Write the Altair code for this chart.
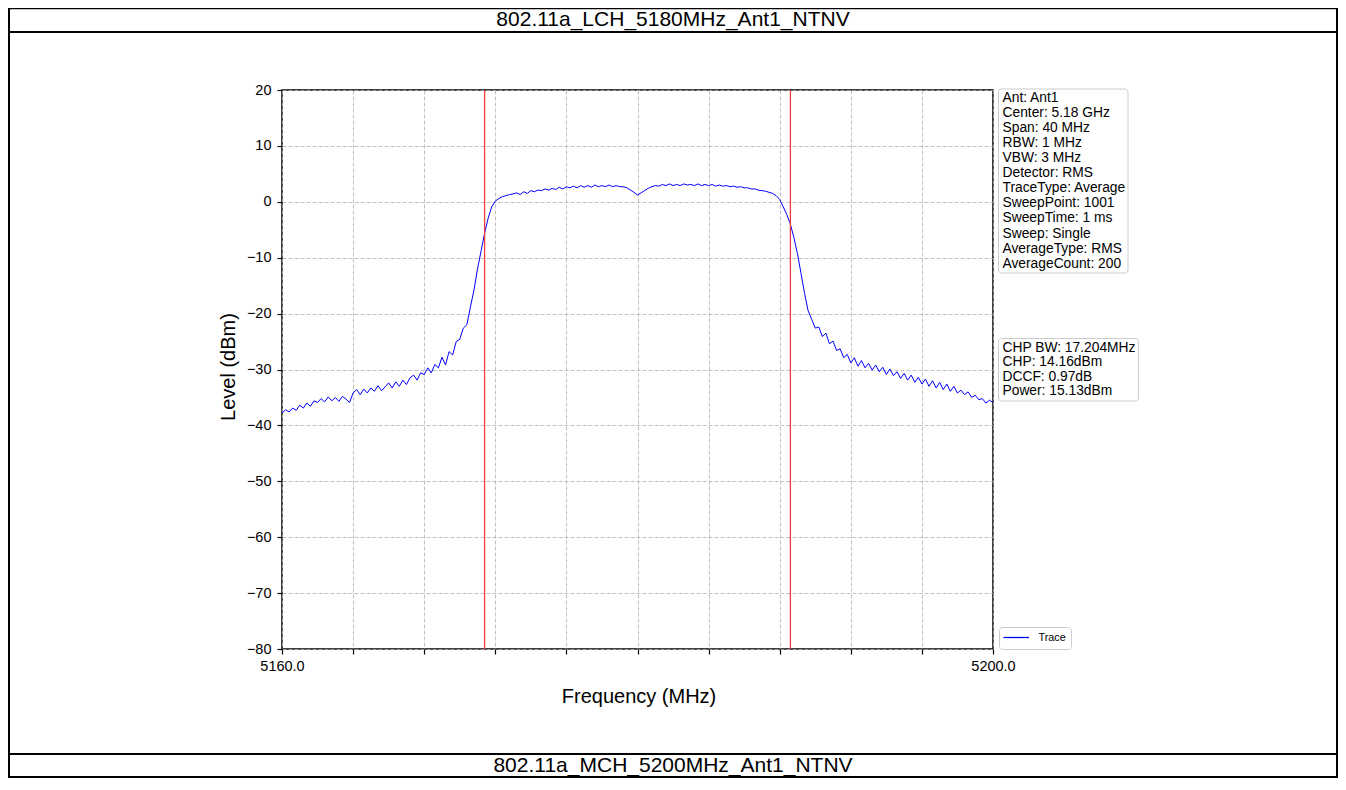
import altair as alt
import pandas as pd

# ---------------- data ----------------
title_top = "802.11a_LCH_5180MHz_Ant1_NTNV"
title_bottom = "802.11a_MCH_5200MHz_Ant1_NTNV"

f_start = 5160.0
f_step = 0.2
level_dbm = [
    -37.8, -37.2, -37.6, -36.9, -37.3, -36.4, -36.9, -36.0, -36.6, -35.6,
    -35.9, -35.2, -35.8, -34.9, -35.6, -35.0, -35.7, -34.8, -35.3, -35.9,
    -34.2, -33.6, -34.5, -33.5, -34.2, -33.3, -33.9, -32.9, -33.8, -33.1,
    -32.4, -33.3, -32.2, -33.0, -31.9, -32.7, -31.5, -31.0, -31.9, -30.6,
    -30.9, -29.7, -30.6, -29.1, -29.7, -27.8, -29.2, -26.8, -27.4, -25.0,
    -24.6, -22.6, -22.0, -18.8, -15.8, -12.0, -8.8, -5.6, -2.9, -0.9,
    0.1, 0.6, 0.9, 1.1, 1.3, 1.4, 1.6, 1.3, 1.8, 1.5,
    2.0, 1.8, 2.1, 2.0, 2.3, 2.1, 2.4, 2.2, 2.6, 2.3,
    2.7, 2.5, 2.8, 2.5, 2.9, 2.6, 2.9, 2.6, 3.0, 2.7,
    2.9, 2.7, 3.0, 2.7, 2.9, 2.7, 2.7, 2.5, 2.1, 1.7,
    1.2, 1.6, 2.0, 2.4, 2.7, 2.9, 2.8, 3.1, 2.9, 3.2,
    2.9, 3.1, 2.9, 3.2, 3.0, 3.1, 2.9, 3.2, 2.9, 3.1,
    2.9, 3.1, 2.8, 3.0, 2.8, 2.9, 2.7, 2.8, 2.6, 2.7,
    2.5, 2.5, 2.3, 2.3, 2.1, 2.0, 1.9, 1.7, 1.5, 1.1,
    0.4, -0.9, -2.3, -4.0, -6.4, -9.3, -12.8, -16.4, -19.5, -21.0,
    -22.6, -22.4, -24.1, -23.5, -25.4, -24.9, -26.6, -26.3, -27.9, -27.3,
    -28.8, -27.9, -29.4, -28.4, -29.7, -28.9, -30.1, -29.2, -30.4, -29.6,
    -30.9, -29.9, -31.1, -30.4, -31.6, -30.7, -31.9, -31.0, -32.3, -31.4,
    -32.6, -31.7, -33.0, -32.0, -33.3, -32.3, -33.6, -32.6, -33.9, -33.0,
    -34.2, -33.7, -34.5, -34.0, -35.0, -34.6, -35.4, -35.2, -36.0, -35.5,
    -35.9,
]
freq_mhz = [round(f_start + f_step * i, 1) for i in range(len(level_dbm))]

chp_edges_mhz = [5171.398, 5188.602]

info_lines = [
    "Ant: Ant1", "Center: 5.18 GHz", "Span: 40 MHz", "RBW: 1 MHz", "VBW: 3 MHz",
    "Detector: RMS", "TraceType: Average", "SweepPoint: 1001", "SweepTime: 1 ms",
    "Sweep: Single", "AverageType: RMS", "AverageCount: 200",
]
chp_lines = ["CHP BW: 17.204MHz", "CHP: 14.16dBm", "DCCF: 0.97dB", "Power: 15.13dBm"]
legend_label = "Trace"

x_ticks = [5160, 5164, 5168, 5172, 5176, 5180, 5184, 5188, 5192, 5196, 5200]
y_ticks = [-80, -70, -60, -50, -40, -30, -20, -10, 0, 10, 20]
x_title = "Frequency (MHz)"
y_title = "Level (dBm)"

# ---------------- chart ----------------
FONT = "Liberation Sans"
W, H = 711, 559
one = pd.DataFrame({"k": [0]})


def rule(x1, x2, y1, y2, color="black", width=2.0):
    return alt.Chart(one).mark_rule(color=color, strokeWidth=width).encode(
        x=alt.value(x1), x2=alt.value(x2), y=alt.value(y1), y2=alt.value(y2))


def box(x1, x2, y1, y2):
    return alt.Chart(one).mark_rect(
        fill="white", stroke="#cccccc", strokeWidth=1, cornerRadius=3
    ).encode(x=alt.value(x1), x2=alt.value(x2), y=alt.value(y1), y2=alt.value(y2))


def text(s, x, y, size, align="left", angle=None, line_height=None):
    kw = dict(text=s, font=FONT, fontSize=size, align=align,
              baseline="alphabetic", color="black")
    if angle is not None:
        kw["angle"] = angle
    if line_height is not None:
        kw["lineHeight"] = line_height
    return alt.Chart(one).mark_text(**kw).encode(x=alt.value(x), y=alt.value(y))


df = pd.DataFrame({"freq": freq_mhz, "level": level_dbm})
xscale = alt.Scale(domain=[5160, 5200], nice=False, zero=False)
yscale = alt.Scale(domain=[-80, 20], nice=False, zero=False)

xaxis = alt.Axis(
    values=x_ticks, title=None, grid=True, domain=False,
    labelExpr="datum.value == 5160 || datum.value == 5200 ? format(datum.value, '.1f') : ''",
    labelFlush=False, labelOverlap=False, labelBound=False,
    labelFont=FONT, labelFontSize=14.5, labelColor="black", labelPadding=5,
    tickSize=5, tickColor="black", tickWidth=1.2,
    gridDash=[4, 2], gridColor="#b0b0b0", gridWidth=0.8,
)
yaxis = alt.Axis(
    values=y_ticks, title=None, grid=True, domain=False,
    labelFlush=False, labelOverlap=False,
    labelFont=FONT, labelFontSize=14.5, labelColor="black", labelPadding=6,
    tickSize=5, tickColor="black", tickWidth=1.2,
    gridDash=[4, 2], gridColor="#b0b0b0", gridWidth=0.8,
)

trace = alt.Chart(df).mark_line(color="#0000ff", strokeWidth=1, clip=True).encode(
    x=alt.X("freq:Q", scale=xscale, axis=xaxis),
    y=alt.Y("level:Q", scale=yscale, axis=yaxis),
)
edges = alt.Chart(pd.DataFrame({"freq": chp_edges_mhz})).mark_rule(
    color="#f03c3c", strokeWidth=1.3
).encode(x=alt.X("freq:Q", scale=xscale))

# plot coordinates: plot origin sits at page (282, 90); svg spans page x 8..1338
layers = [
    rule(-274, 1056, -81.5, -81.5, width=1.5),
    rule(-274, 1056, -58, -58),
    rule(-274, 1056, 664, 664),
    rule(-274, 1056, 687, 687),
    rule(-273, -273, -82, 688),
    rule(1055, 1055, -82, 688),
    text(title_top, 391, -64.5, 21, align="center"),
    text(title_bottom, 391, 681.5, 21, align="center"),
    trace,
    edges,
    box(716.5, 846, -1, 183),
    text(info_lines, 720.5, 12, 13.8, line_height=15.06),
    box(716.5, 856.5, 248.5, 311),
    text(chp_lines, 720.5, 261.6, 13.8, line_height=14.6),
    box(717.5, 789.5, 537.5, 559.5),
    rule(721.5, 747, 547.5, 547.5, color="#0000ff", width=1.3),
    text(legend_label, 756.5, 551, 10.8),
    text(x_title, 357, 612.5, 20, align="center"),
    text(y_title, -47, 277, 20, align="center", angle=270),
]

chart = alt.layer(*layers).properties(
    width=W, height=H,
    padding={"left": 274, "top": 82, "right": 345, "bottom": 129},
    autosize=alt.AutoSizeParams(type="none"),
    background="white",
).configure_view(stroke="black", strokeWidth=1.5)

chart.save("out.html", embed_options={"renderer": "svg", "actions": False})
